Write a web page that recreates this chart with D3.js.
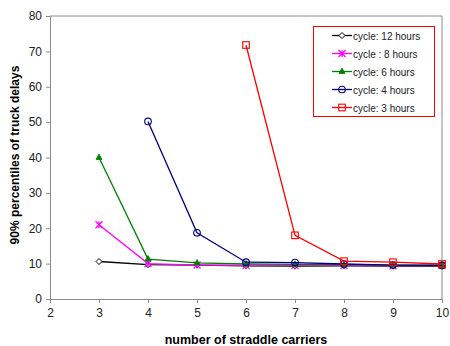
<!DOCTYPE html>
<html>
<head>
<meta charset="utf-8">
<script src="https://cdn.jsdelivr.net/npm/d3@7"></script>
<style>
  body { margin: 0; background: #fff; }
  text { font-family: "Liberation Sans", Arial, sans-serif; }
</style>
</head>
<body>
<figure id="chart" style="margin:0"></figure>
<script>
// data
const carriers = [3, 4, 5, 6, 7, 8, 9, 10];
const cycle12 = [10.6, 9.7, 9.6, 9.4, 9.3, 9.4, 9.3, 9.3];
const cycle8 = [21, 10.0, 9.6, 9.5, 9.5, 9.5, 9.4, 9.5];
const cycle6 = [40, 11.3, 10.2, 9.9, 9.8, 9.7, 9.6, 9.6];
const cycle4 = [null, 50.2, 18.7, 10.4, 10.3, 9.9, 9.6, 9.5];
const cycle3 = [null, null, null, 71.8, 18, 10.7, 10.4, 9.9];
const xTicks = [2, 3, 4, 5, 6, 7, 8, 9, 10];
const yTicks = [0, 10, 20, 30, 40, 50, 60, 70, 80];

const series = [
  { name: "cycle: 12 hours", values: cycle12, color: "#000000", marker: "diamond" },
  { name: "cycle : 8 hours", values: cycle8, color: "#ff00ff", marker: "star" },
  { name: "cycle: 6 hours", values: cycle6, color: "#008000", marker: "triangle" },
  { name: "cycle: 4 hours", values: cycle4, color: "#000080", marker: "circle" },
  { name: "cycle: 3 hours", values: cycle3, color: "#ff0000", marker: "square" }
];

const width = 450, height = 346;
const margin = { left: 50, right: 8, top: 16, bottom: 47 };

const svg = d3.select("#chart").append("svg")
  .attr("width", width)
  .attr("height", height);

const x = d3.scaleLinear().domain([2, 10]).range([margin.left, width - margin.right]);
const y = d3.scaleLinear().domain([0, 80]).range([height - margin.bottom, margin.top]);

// frame: top and right
svg.append("path")
  .attr("d", `M${x(2)},${y(80)}H${x(10)}V${y(0)}`)
  .attr("fill", "none")
  .attr("stroke", "#8c8c8c");

// axes
const gx = svg.append("g")
  .attr("transform", `translate(0,${y(0)})`)
  .call(d3.axisBottom(x).tickValues(xTicks).tickSize(4).tickPadding(5).tickFormat(d3.format("d")));
const gy = svg.append("g")
  .attr("transform", `translate(${x(2)},0)`)
  .call(d3.axisLeft(y).tickValues(yTicks).tickSize(4).tickPadding(4));

[gx, gy].forEach(g => {
  g.select(".domain").attr("stroke", "#8c8c8c");
  g.selectAll(".tick line").attr("stroke", "#8c8c8c");
  g.selectAll(".tick text")
    .attr("fill", "#222")
    .style("font-size", "12px")
    .style("font-family", "'Liberation Sans', Arial, sans-serif");
});

// axis titles
svg.append("text")
  .attr("x", 246)
  .attr("y", 344)
  .attr("text-anchor", "middle")
  .style("font-size", "12.5px")
  .style("font-weight", "bold")
  .text("number of straddle carriers");

svg.append("text")
  .attr("transform", `translate(19,155) rotate(-90)`)
  .attr("text-anchor", "middle")
  .style("font-size", "12px")
  .style("font-weight", "bold")
  .text("90% percentiles of truck delays");

function drawMarker(g, type, color, cx, cy) {
  if (type === "diamond") {
    g.append("path")
      .attr("d", `M${cx},${cy - 3}L${cx + 3},${cy}L${cx},${cy + 3}L${cx - 3},${cy}Z`)
      .attr("fill", "#fff").attr("stroke", color).attr("stroke-width", 1);
  } else if (type === "star") {
    const r = 3.5;
    g.append("path")
      .attr("d", `M${cx - r},${cy - r}L${cx + r},${cy + r}M${cx - r},${cy + r}L${cx + r},${cy - r}M${cx},${cy - r}V${cy + r}`)
      .attr("stroke", color).attr("stroke-width", 1.2);
  } else if (type === "triangle") {
    g.append("path")
      .attr("d", `M${cx},${cy - 3.5}L${cx + 3},${cy + 2}L${cx - 3},${cy + 2}Z`)
      .attr("fill", color).attr("stroke", color).attr("stroke-width", 0.8);
  } else if (type === "circle") {
    g.append("circle")
      .attr("cx", cx).attr("cy", cy).attr("r", 3.3)
      .attr("fill", "none").attr("stroke", color).attr("stroke-width", 1.1);
  } else if (type === "square") {
    g.append("rect")
      .attr("x", cx - 3.3).attr("y", cy - 3.3).attr("width", 6.6).attr("height", 6.6)
      .attr("fill", "none").attr("stroke", color).attr("stroke-width", 1.1);
  }
}

const line = d3.line()
  .defined(d => d.v != null)
  .x(d => x(d.c))
  .y(d => y(d.v));

series.forEach(s => {
  const pts = carriers.map((c, i) => ({ c: c, v: s.values[i] }));
  const g = svg.append("g");
  g.append("path")
    .datum(pts)
    .attr("d", line)
    .attr("fill", "none")
    .attr("stroke", s.color)
    .attr("stroke-width", 1.3);
  pts.filter(d => d.v != null).forEach(d => drawMarker(g, s.marker, s.color, x(d.c), y(d.v)));
});

// legend
const lg = svg.append("g");
lg.append("rect")
  .attr("x", 313.5).attr("y", 26.5).attr("width", 121).attr("height", 90)
  .attr("fill", "#fff").attr("stroke", "#ff0000");
series.forEach((s, i) => {
  const ly = 35.5 + i * 18;
  lg.append("line")
    .attr("x1", 332).attr("x2", 352).attr("y1", ly).attr("y2", ly)
    .attr("stroke", s.color).attr("stroke-width", 1.3);
  drawMarker(lg, s.marker, s.color, 342, ly);
  lg.append("text")
    .attr("x", 353).attr("y", ly + 4)
    .style("font-size", "10px")
    .attr("fill", "#222")
    .text(s.name);
});
</script>
</body>
</html>
